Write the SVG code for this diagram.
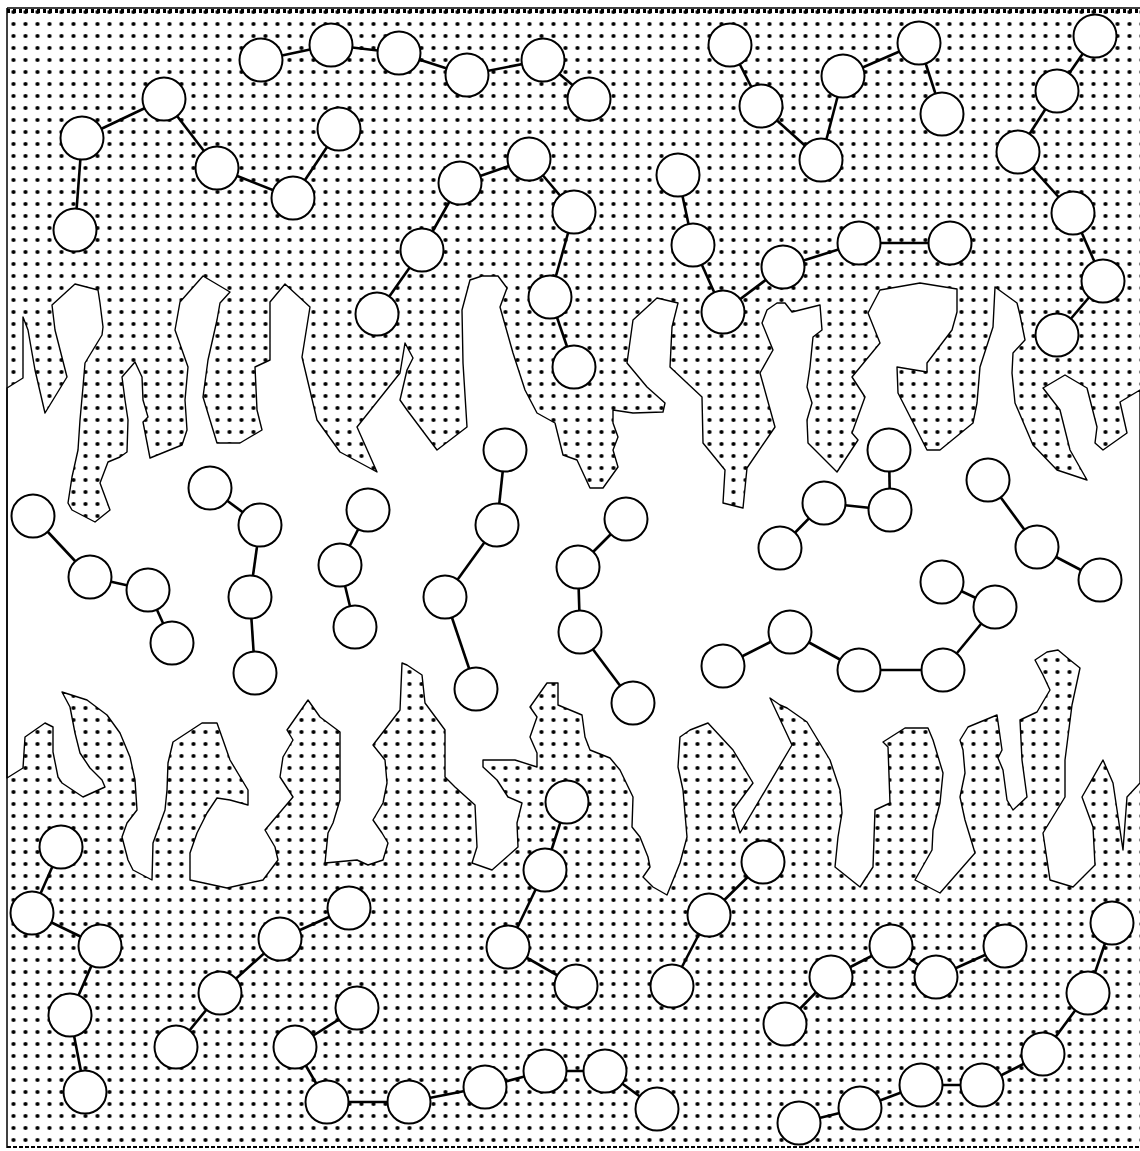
<svg xmlns="http://www.w3.org/2000/svg" width="1140" height="1151" viewBox="0 0 1140 1151">
<style>
.n circle{fill:#fff;stroke:#000;stroke-width:2}
#edges line{stroke:#000;stroke-width:2.6}
.w{fill:#fff;stroke:#000;stroke-width:1.4;stroke-linejoin:round}
.frame{stroke:#000;fill:none}
</style>
<defs>
<pattern id="dots" width="12" height="12" patternUnits="userSpaceOnUse" x="-4.5" y="-6">
<circle cx="6" cy="6" r="2.1"/>
</pattern>
</defs>
<rect width="1140" height="1151" fill="#fff"/>
<rect x="7" y="8" width="1133" height="1140" fill="url(#dots)"/>
<polygon class="w" points="7,388 23,378 23,317 28,330 35,370 45,413 67,377 55,330 52,305 75,284 98,290 100,303 103,327 102,335 85,363 83,387 80,420 78,450 72,477 68,503 72,510 95,522 110,510 100,483 108,462 120,457 127,452 128,420 125,400 122,377 135,362 142,377 143,400 148,417 143,422 150,458 182,445 187,430 185,400 188,367 175,330 180,302 203,276 230,292 220,303 217,320 208,360 203,397 217,443 240,443 262,430 257,410 255,367 270,360 270,302 285,284 310,307 302,357 317,420 340,452 377,472 357,427 400,373 405,343 413,358 407,370 400,400 407,410 437,450 467,427 463,363 462,310 470,280 482,276 498,276 507,288 500,307 513,353 525,390 537,413 555,423 563,455 577,460 590,488 603,488 618,467 613,450 618,437 613,423 613,410 633,413 663,412 665,403 647,387 627,363 633,320 657,298 678,303 672,327 670,367 702,397 703,443 725,470 723,503 743,508 747,468 775,427 760,373 773,350 762,323 767,310 777,303 785,303 792,312 820,305 822,330 813,337 810,367 807,387 812,403 807,420 808,443 837,472 858,440 852,433 865,397 852,377 880,343 868,313 880,290 920,283 957,289 957,312 952,330 927,363 927,372 897,367 898,393 927,450 940,450 973,423 977,403 980,367 993,327 995,287 1017,303 1020,315 1025,340 1013,353 1012,373 1015,403 1033,445 1057,470 1087,480 1070,450 1060,410 1043,388 1065,375 1087,388 1097,427 1095,443 1103,450 1127,433 1120,402 1140,390 1140,783 1127,797 1123,850 1113,783 1103,760 1082,797 1093,827 1095,865 1073,887 1050,880 1043,833 1065,797 1065,760 1072,705 1080,668 1070,660 1058,650 1047,652 1035,660 1043,675 1050,690 1037,712 1020,720 1022,760 1027,797 1013,810 1007,800 1003,770 998,758 1002,750 997,715 968,727 960,740 963,750 965,773 960,797 965,820 972,843 975,853 940,893 915,880 932,850 933,830 940,803 943,773 933,740 928,728 905,728 883,742 888,747 890,803 875,810 873,867 860,887 835,867 838,837 842,813 840,790 830,760 807,722 787,708 780,705 770,698 792,745 740,833 733,810 753,783 733,750 708,723 690,730 680,737 678,767 683,790 687,837 680,863 667,895 653,887 643,877 650,867 648,857 640,837 632,827 633,797 620,770 610,758 590,750 585,737 582,715 558,705 558,683 547,683 530,707 537,717 530,737 537,753 537,767 515,760 483,760 483,767 497,780 508,797 522,803 517,823 518,847 492,870 472,863 477,847 475,805 455,787 445,777 445,730 425,703 422,675 407,665 402,663 400,710 390,723 373,745 385,760 387,783 383,803 373,820 382,833 388,843 383,860 368,865 357,860 325,863 328,833 333,823 340,800 340,783 340,732 320,717 308,700 287,730 293,740 283,757 280,777 293,797 265,830 275,847 278,860 263,880 227,888 190,880 190,853 197,833 207,813 217,798 230,800 248,805 248,790 230,760 223,740 217,723 202,723 173,742 168,763 167,790 165,810 153,843 152,880 133,870 128,860 122,837 127,823 137,810 135,780 130,757 120,733 107,715 87,700 62,692 70,707 75,733 80,753 90,768 102,780 105,787 83,797 62,783 58,777 53,752 53,727 45,723 25,737 23,768 7,778"/>
<g class="frame">
<line x1="7" y1="8" x2="7" y2="1148" stroke-width="1.5"/>
<line x1="7" y1="8" x2="1140" y2="8" stroke-width="1.5"/>
<line x1="7" y1="11" x2="1140" y2="11" stroke-width="4" stroke-dasharray="3 3"/>
<line x1="7" y1="1147" x2="1140" y2="1147" stroke-width="2" stroke-dasharray="4 2"/>
</g>
<g id="edges">
<line x1="261" y1="60" x2="331" y2="45"/><line x1="331" y1="45" x2="399" y2="53"/><line x1="399" y1="53" x2="467" y2="75"/><line x1="467" y1="75" x2="543" y2="60"/><line x1="543" y1="60" x2="589" y2="99"/>
<line x1="75" y1="230" x2="82" y2="138"/><line x1="82" y1="138" x2="164" y2="99"/><line x1="164" y1="99" x2="217" y2="168"/><line x1="217" y1="168" x2="293" y2="198"/><line x1="293" y1="198" x2="339" y2="129"/>
<line x1="377" y1="314" x2="422" y2="250"/><line x1="422" y1="250" x2="460" y2="183"/><line x1="460" y1="183" x2="529" y2="159"/><line x1="529" y1="159" x2="574" y2="212"/><line x1="574" y1="212" x2="550" y2="297"/><line x1="550" y1="297" x2="574" y2="367"/>
<line x1="730" y1="45" x2="761" y2="106"/><line x1="761" y1="106" x2="821" y2="160"/><line x1="821" y1="160" x2="843" y2="76"/><line x1="843" y1="76" x2="919" y2="43"/><line x1="919" y1="43" x2="942" y2="114"/>
<line x1="678" y1="175" x2="693" y2="245"/><line x1="693" y1="245" x2="723" y2="312"/><line x1="723" y1="312" x2="783" y2="267"/><line x1="783" y1="267" x2="859" y2="243"/><line x1="859" y1="243" x2="950" y2="243"/>
<line x1="1095" y1="36" x2="1057" y2="91"/><line x1="1057" y1="91" x2="1018" y2="152"/><line x1="1018" y1="152" x2="1073" y2="213"/><line x1="1073" y1="213" x2="1103" y2="281"/><line x1="1103" y1="281" x2="1057" y2="335"/>
<line x1="33" y1="516" x2="90" y2="577"/><line x1="90" y1="577" x2="148" y2="590"/><line x1="148" y1="590" x2="172" y2="643"/>
<line x1="210" y1="488" x2="260" y2="525"/><line x1="260" y1="525" x2="250" y2="597"/><line x1="250" y1="597" x2="255" y2="673"/>
<line x1="368" y1="510" x2="340" y2="565"/><line x1="340" y1="565" x2="355" y2="627"/>
<line x1="505" y1="450" x2="497" y2="525"/><line x1="497" y1="525" x2="445" y2="597"/><line x1="445" y1="597" x2="476" y2="689"/>
<line x1="626" y1="519" x2="578" y2="567"/><line x1="578" y1="567" x2="580" y2="632"/><line x1="580" y1="632" x2="633" y2="703"/>
<line x1="889" y1="450" x2="890" y2="510"/><line x1="890" y1="510" x2="824" y2="503"/><line x1="824" y1="503" x2="780" y2="548"/>
<line x1="988" y1="480" x2="1037" y2="547"/><line x1="1037" y1="547" x2="1100" y2="580"/>
<line x1="942" y1="582" x2="995" y2="607"/><line x1="995" y1="607" x2="943" y2="670"/><line x1="943" y1="670" x2="859" y2="670"/><line x1="859" y1="670" x2="790" y2="632"/><line x1="790" y1="632" x2="723" y2="666"/>
<line x1="61" y1="847" x2="32" y2="913"/><line x1="32" y1="913" x2="100" y2="946"/><line x1="100" y1="946" x2="70" y2="1015"/><line x1="70" y1="1015" x2="85" y2="1092"/>
<line x1="176" y1="1047" x2="220" y2="993"/><line x1="220" y1="993" x2="280" y2="939"/><line x1="280" y1="939" x2="349" y2="908"/>
<line x1="357" y1="1008" x2="295" y2="1047"/><line x1="295" y1="1047" x2="327" y2="1102"/><line x1="327" y1="1102" x2="409" y2="1102"/><line x1="409" y1="1102" x2="485" y2="1087"/><line x1="485" y1="1087" x2="545" y2="1071"/><line x1="545" y1="1071" x2="605" y2="1071"/><line x1="605" y1="1071" x2="657" y2="1109"/>
<line x1="567" y1="802" x2="545" y2="870"/><line x1="545" y1="870" x2="508" y2="947"/><line x1="508" y1="947" x2="576" y2="986"/>
<line x1="763" y1="862" x2="709" y2="915"/><line x1="709" y1="915" x2="672" y2="986"/>
<line x1="785" y1="1024" x2="831" y2="977"/><line x1="831" y1="977" x2="891" y2="946"/><line x1="891" y1="946" x2="936" y2="977"/><line x1="936" y1="977" x2="1005" y2="946"/>
<line x1="1112" y1="923" x2="1088" y2="993"/><line x1="1088" y1="993" x2="1043" y2="1054"/><line x1="1043" y1="1054" x2="982" y2="1085"/><line x1="982" y1="1085" x2="921" y2="1085"/><line x1="921" y1="1085" x2="860" y2="1108"/><line x1="860" y1="1108" x2="799" y2="1123"/>
</g>
<g class="n">
<g id="c1"><circle cx="261" cy="60" r="21.5"/></g>
<g id="c2"><circle cx="331" cy="45" r="21.5"/></g>
<g id="c3"><circle cx="399" cy="53" r="21.5"/></g>
<g id="c4"><circle cx="467" cy="75" r="21.5"/></g>
<g id="c5"><circle cx="543" cy="60" r="21.5"/></g>
<g id="c6"><circle cx="589" cy="99" r="21.5"/></g>
<g id="c7"><circle cx="82" cy="138" r="21.5"/></g>
<g id="c8"><circle cx="164" cy="99" r="21.5"/></g>
<g id="c9"><circle cx="217" cy="168" r="21.5"/></g>
<g id="c10"><circle cx="293" cy="198" r="21.5"/></g>
<g id="c11"><circle cx="339" cy="129" r="21.5"/></g>
<g id="c12"><circle cx="75" cy="230" r="21.5"/></g>
<g id="c13"><circle cx="460" cy="183" r="21.5"/></g>
<g id="c14"><circle cx="529" cy="159" r="21.5"/></g>
<g id="c15"><circle cx="574" cy="212" r="21.5"/></g>
<g id="c16"><circle cx="550" cy="297" r="21.5"/></g>
<g id="c17"><circle cx="574" cy="367" r="21.5"/></g>
<g id="c18"><circle cx="422" cy="250" r="21.5"/></g>
<g id="c19"><circle cx="377" cy="314" r="21.5"/></g>
<g id="c20"><circle cx="730" cy="45" r="21.5"/></g>
<g id="c21"><circle cx="761" cy="106" r="21.5"/></g>
<g id="c22"><circle cx="821" cy="160" r="21.5"/></g>
<g id="c23"><circle cx="843" cy="76" r="21.5"/></g>
<g id="c24"><circle cx="919" cy="43" r="21.5"/></g>
<g id="c25"><circle cx="942" cy="114" r="21.5"/></g>
<g id="c26"><circle cx="678" cy="175" r="21.5"/></g>
<g id="c27"><circle cx="693" cy="245" r="21.5"/></g>
<g id="c28"><circle cx="723" cy="312" r="21.5"/></g>
<g id="c29"><circle cx="783" cy="267" r="21.5"/></g>
<g id="c30"><circle cx="859" cy="243" r="21.5"/></g>
<g id="c31"><circle cx="950" cy="243" r="21.5"/></g>
<g id="c32"><circle cx="1095" cy="36" r="21.5"/></g>
<g id="c33"><circle cx="1057" cy="91" r="21.5"/></g>
<g id="c34"><circle cx="1018" cy="152" r="21.5"/></g>
<g id="c35"><circle cx="1073" cy="213" r="21.5"/></g>
<g id="c36"><circle cx="1103" cy="281" r="21.5"/></g>
<g id="c37"><circle cx="1057" cy="335" r="21.5"/></g>
<g id="m1"><circle cx="33" cy="516" r="21.5"/></g>
<g id="m2"><circle cx="90" cy="577" r="21.5"/></g>
<g id="m3"><circle cx="148" cy="590" r="21.5"/></g>
<g id="m4"><circle cx="172" cy="643" r="21.5"/></g>
<g id="m5"><circle cx="210" cy="488" r="21.5"/></g>
<g id="m6"><circle cx="260" cy="525" r="21.5"/></g>
<g id="m7"><circle cx="250" cy="597" r="21.5"/></g>
<g id="m8"><circle cx="255" cy="673" r="21.5"/></g>
<g id="m9"><circle cx="368" cy="510" r="21.5"/></g>
<g id="m10"><circle cx="340" cy="565" r="21.5"/></g>
<g id="m11"><circle cx="355" cy="627" r="21.5"/></g>
<g id="m12"><circle cx="505" cy="450" r="21.5"/></g>
<g id="m13"><circle cx="497" cy="525" r="21.5"/></g>
<g id="m14"><circle cx="445" cy="597" r="21.5"/></g>
<g id="m15"><circle cx="476" cy="689" r="21.5"/></g>
<g id="m16"><circle cx="626" cy="519" r="21.5"/></g>
<g id="m17"><circle cx="578" cy="567" r="21.5"/></g>
<g id="m18"><circle cx="580" cy="632" r="21.5"/></g>
<g id="m19"><circle cx="633" cy="703" r="21.5"/></g>
<g id="m20"><circle cx="889" cy="450" r="21.5"/></g>
<g id="m21"><circle cx="890" cy="510" r="21.5"/></g>
<g id="m22"><circle cx="824" cy="503" r="21.5"/></g>
<g id="m23"><circle cx="780" cy="548" r="21.5"/></g>
<g id="m24"><circle cx="988" cy="480" r="21.5"/></g>
<g id="m25"><circle cx="1037" cy="547" r="21.5"/></g>
<g id="m26"><circle cx="1100" cy="580" r="21.5"/></g>
<g id="m27"><circle cx="942" cy="582" r="21.5"/></g>
<g id="m28"><circle cx="995" cy="607" r="21.5"/></g>
<g id="m29"><circle cx="943" cy="670" r="21.5"/></g>
<g id="m30"><circle cx="859" cy="670" r="21.5"/></g>
<g id="m31"><circle cx="790" cy="632" r="21.5"/></g>
<g id="m32"><circle cx="723" cy="666" r="21.5"/></g>
<g id="b1"><circle cx="61" cy="847" r="21.5"/></g>
<g id="b2"><circle cx="32" cy="913" r="21.5"/></g>
<g id="b3"><circle cx="100" cy="946" r="21.5"/></g>
<g id="b4"><circle cx="70" cy="1015" r="21.5"/></g>
<g id="b5"><circle cx="85" cy="1092" r="21.5"/></g>
<g id="b6"><circle cx="176" cy="1047" r="21.5"/></g>
<g id="b7"><circle cx="220" cy="993" r="21.5"/></g>
<g id="b8"><circle cx="280" cy="939" r="21.5"/></g>
<g id="b9"><circle cx="349" cy="908" r="21.5"/></g>
<g id="b10"><circle cx="357" cy="1008" r="21.5"/></g>
<g id="b11"><circle cx="295" cy="1047" r="21.5"/></g>
<g id="b12"><circle cx="327" cy="1102" r="21.5"/></g>
<g id="b13"><circle cx="409" cy="1102" r="21.5"/></g>
<g id="b14"><circle cx="485" cy="1087" r="21.5"/></g>
<g id="b15"><circle cx="545" cy="1071" r="21.5"/></g>
<g id="b16"><circle cx="605" cy="1071" r="21.5"/></g>
<g id="b17"><circle cx="657" cy="1109" r="21.5"/></g>
<g id="b18"><circle cx="567" cy="802" r="21.5"/></g>
<g id="b19"><circle cx="545" cy="870" r="21.5"/></g>
<g id="b20"><circle cx="508" cy="947" r="21.5"/></g>
<g id="b21"><circle cx="576" cy="986" r="21.5"/></g>
<g id="b22"><circle cx="763" cy="862" r="21.5"/></g>
<g id="b23"><circle cx="709" cy="915" r="21.5"/></g>
<g id="b24"><circle cx="672" cy="986" r="21.5"/></g>
<g id="b25"><circle cx="785" cy="1024" r="21.5"/></g>
<g id="b26"><circle cx="831" cy="977" r="21.5"/></g>
<g id="b27"><circle cx="891" cy="946" r="21.5"/></g>
<g id="b28"><circle cx="936" cy="977" r="21.5"/></g>
<g id="b29"><circle cx="1005" cy="946" r="21.5"/></g>
<g id="b30"><circle cx="1112" cy="923" r="21.5"/></g>
<g id="b31"><circle cx="1088" cy="993" r="21.5"/></g>
<g id="b32"><circle cx="1043" cy="1054" r="21.5"/></g>
<g id="b33"><circle cx="982" cy="1085" r="21.5"/></g>
<g id="b34"><circle cx="921" cy="1085" r="21.5"/></g>
<g id="b35"><circle cx="860" cy="1108" r="21.5"/></g>
<g id="b36"><circle cx="799" cy="1123" r="21.5"/></g>
</g>
</svg>
